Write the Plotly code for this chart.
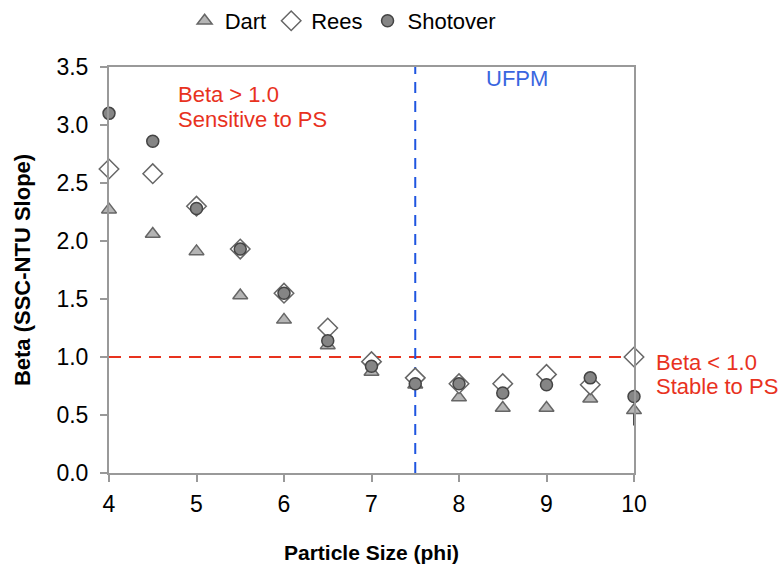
import plotly.graph_objects as go

phi = [4, 4.5, 5, 5.5, 6, 6.5, 7, 7.5, 8, 8.5, 9, 9.5, 10]
dart = [2.27, 2.06, 1.91, 1.53, 1.32, 1.10, 0.87, 0.76, 0.65, 0.56, 0.56, 0.64, 0.54]
dart_err_minus = [0, 0, 0, 0, 0, 0, 0, 0, 0, 0, 0, 0, 0.13]
rees = [2.62, 2.58, 2.30, 1.93, 1.55, 1.25, 0.96, 0.82, 0.77, 0.77, 0.85, 0.76, 1.00]
shotover = [3.10, 2.86, 2.28, 1.93, 1.55, 1.14, 0.92, 0.77, 0.77, 0.69, 0.76, 0.82, 0.66]

threshold_beta = 1.0
ufpm_phi = 7.5

FONT = "Liberation Sans, Arial, sans-serif"
RED = "#e8321e"
BLUE = "#3a66e0"

fig = go.Figure()
fig.add_trace(go.Scatter(x=phi, y=dart, mode="markers", name="Dart",
                         error_y=dict(type="data", symmetric=False,
                                      array=[0] * len(dart), arrayminus=dart_err_minus,
                                      color="#111111", thickness=1.5, width=0),
                         marker=dict(symbol="triangle-up", size=13, color="#b5b5b5",
                                     line=dict(color="#666666", width=1.5))))
fig.add_trace(go.Scatter(x=phi, y=rees, mode="markers", name="Rees",
                         marker=dict(symbol="diamond", size=15, color="white",
                                     line=dict(color="#666666", width=1.5))))
fig.add_trace(go.Scatter(x=phi, y=shotover, mode="markers", name="Shotover",
                         marker=dict(symbol="circle", size=12, color="#858585",
                                     line=dict(color="#444444", width=1.5))))
for tr in fig.data:
    tr.cliponaxis = False

# reference lines
fig.add_shape(type="line", x0=4, x1=10, y0=threshold_beta, y1=threshold_beta,
              line=dict(color=RED, width=2, dash="12px,8px"), layer="below")
fig.add_shape(type="line", x0=ufpm_phi, x1=ufpm_phi, y0=0, y1=3.5,
              line=dict(color="#1f55e0", width=2, dash="11px,8px"), layer="below")

def note(text, x, y, color, xref="x", yref="y"):
    fig.add_annotation(x=x, y=y, xref=xref, yref=yref, text=text, showarrow=False,
                       xanchor="left", yanchor="middle", align="left",
                       font=dict(family=FONT, size=22, color=color))

note("Beta > 1.0", 4.76, 3.26, RED)
note("Sensitive to PS", 4.76, 3.045, RED)
note("UFPM", 8.28, 3.40, BLUE)
note("Beta < 1.0", 1.038, 0.272, RED, xref="paper", yref="paper")
note("Stable to PS", 1.038, 0.212, RED, xref="paper", yref="paper")

fig.update_layout(
    width=779, height=575,
    margin=dict(l=109, r=145, t=57, b=102),
    paper_bgcolor="white", plot_bgcolor="white",
    font=dict(family=FONT, size=22, color="black"),
    showlegend=True,
    legend=dict(orientation="h", x=0.445, xanchor="center", xref="paper",
                y=1.0, yanchor="top", yref="container",
                font=dict(family=FONT, size=22), itemwidth=30, tracegroupgap=0,
                bgcolor="rgba(0,0,0,0)", borderwidth=0),
    xaxis=dict(range=[4, 10], tickvals=[4, 5, 6, 7, 8, 9, 10], showgrid=False, zeroline=False,
               showline=True, linecolor="#999999", linewidth=2, mirror=True,
               ticks="outside", tickcolor="#999999", ticklen=7, tickwidth=1.5,
               tickfont=dict(size=23), ticklabelstandoff=2,
               title=dict(text="<b>Particle Size (phi)</b>", font=dict(size=21), standoff=30)),
    yaxis=dict(range=[0, 3.5], tickvals=[0, 0.5, 1, 1.5, 2, 2.5, 3, 3.5],
               ticktext=["0.0", "0.5", "1.0", "1.5", "2.0", "2.5", "3.0", "3.5"],
               showgrid=False, zeroline=False,
               showline=True, linecolor="#999999", linewidth=2, mirror=True,
               ticks="outside", tickcolor="#999999", ticklen=7, tickwidth=1.5,
               tickfont=dict(size=23), ticklabelstandoff=7,
               title=dict(text="<b>Beta (SSC-NTU Slope)</b>", font=dict(size=22), standoff=20)),
)

fig.write_html("out.html", config={"displayModeBar": False},
               post_script="document.body.style.margin='0';document.body.style.overflow='hidden';")
